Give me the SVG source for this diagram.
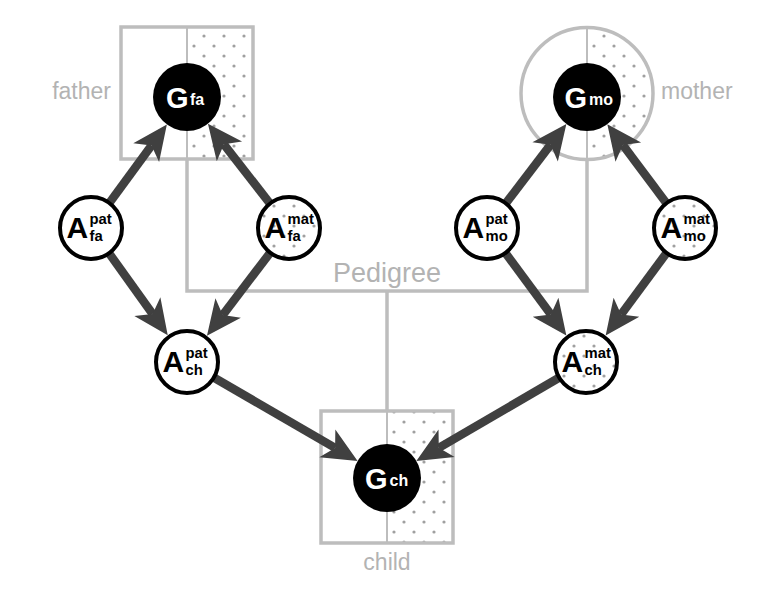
<svg xmlns="http://www.w3.org/2000/svg" width="765" height="592" viewBox="0 0 765 592">
<style>
.box{fill:none;stroke:#bdbdbd;stroke-width:3.5}
.div{fill:none;stroke:#bdbdbd;stroke-width:2}
.ped{fill:none;stroke:#bdbdbd;stroke-width:3.5}
.lbl{font-family:"Liberation Sans",Arial,sans-serif;font-size:23px;fill:#b3b3b3}
.arrow{stroke:#404040;stroke-width:8.5;fill:none;marker-end:url(#head)}
.gc{fill:#000}
.ac{fill:#fff;stroke:#000;stroke-width:4}
.acd{fill:url(#dotsA);stroke:#000;stroke-width:4}
.G{font-family:"Liberation Sans",Arial,sans-serif;font-weight:bold;font-size:29px;fill:#fff}
.Gs{font-size:16px}
.A{font-family:"Liberation Sans",Arial,sans-serif;font-weight:bold;font-size:30px;fill:#000}
.As{font-size:14.8px}
</style>
<defs>
<pattern id="dotsA" patternUnits="userSpaceOnUse" x="0" y="0" width="20" height="20">
<rect width="20" height="20" fill="#fff"/>
<circle cx="4" cy="16" r="1.6" fill="#a0a0a0"/>
<circle cx="14" cy="6" r="1.6" fill="#a0a0a0"/>
</pattern>
<pattern id="dotsB" patternUnits="userSpaceOnUse" x="0" y="0" width="20" height="20">
<rect width="20" height="20" fill="#fff"/>
<circle cx="4" cy="2" r="1.6" fill="#a0a0a0"/>
<circle cx="14" cy="12" r="1.6" fill="#a0a0a0"/>
</pattern>
<marker id="head" markerUnits="userSpaceOnUse" viewBox="-40 -20 44 40" markerWidth="44" markerHeight="40" refX="-26" refY="0" orient="auto" overflow="visible">
<path d="M0,0 L-35,-16 L-26,0 L-35,16 Z" fill="#404040"/>
</marker>
</defs>

<g id="pedigree">
<rect x="187" y="27" width="66" height="132" fill="url(#dotsA)"/>
<path d="M587,27.5 A66,66 0 0 1 587,159.5 Z" fill="url(#dotsA)"/>
<rect x="387" y="411" width="66" height="132" fill="url(#dotsB)"/>
<rect class="box" x="121" y="27" width="132" height="132"/>
<circle class="box" cx="587" cy="93.5" r="66"/>
<rect class="box" x="321" y="411" width="132" height="132"/>
<path class="div" d="M187,27 V159 M587,27.5 V159.5 M387,411 V543"/>
<path class="ped" d="M187,159 V291 H587 V159.5 M387,291 V411"/>
<text class="lbl" x="387" y="282" text-anchor="middle" style="font-size:27px">Pedigree</text>
<text class="lbl" x="111" y="99" text-anchor="end">father</text>
<text class="lbl" x="661" y="99">mother</text>
<text class="lbl" x="387" y="570" text-anchor="middle">child</text>
</g>

<g id="connectors">
<line class="arrow" x1="91" y1="228" x2="151.5" y2="145.4"/>
<line class="arrow" x1="289" y1="228" x2="223.9" y2="144.3"/>
<line class="arrow" x1="487" y1="228" x2="550.6" y2="144.7"/>
<line class="arrow" x1="685" y1="228" x2="622.9" y2="145.0"/>
<line class="arrow" x1="91" y1="228" x2="152.6" y2="314.0"/>
<line class="arrow" x1="289" y1="228" x2="222.7" y2="315.1"/>
<line class="arrow" x1="487" y1="228" x2="550.9" y2="314.5"/>
<line class="arrow" x1="685" y1="228" x2="621.1" y2="314.5"/>
<line class="arrow" x1="187" y1="362" x2="335.1" y2="447.9"/>
<line class="arrow" x1="586" y1="362" x2="438.8" y2="447.8"/>
</g>

<g id="G_fa">
<circle class="gc" cx="187" cy="97" r="34"/>
<text class="G" x="166" y="107.5">G<tspan class="Gs" x="190" y="105">fa</tspan></text>
</g>
<g id="G_mo">
<circle class="gc" cx="587" cy="97" r="34"/>
<text class="G" x="564.5" y="107.5">G<tspan class="Gs" x="589" y="105">mo</tspan></text>
</g>
<g id="G_ch">
<circle class="gc" cx="387" cy="478" r="34"/>
<text class="G" x="365" y="488.5">G<tspan class="Gs" x="389.5" y="486">ch</tspan></text>
</g>

<g id="A_fa_pat">
<circle class="ac" cx="91" cy="228" r="31"/>
<text class="A" x="66.5" y="238">A<tspan class="As" x="89.5" y="223.5">pat</tspan><tspan class="As" x="89.5" y="240.5">fa</tspan></text>
</g>
<g id="A_fa_mat">
<circle class="acd" cx="289" cy="228" r="31"/>
<text class="A" x="264.5" y="238">A<tspan class="As" x="287.5" y="223.5">mat</tspan><tspan class="As" x="287.5" y="240.5">fa</tspan></text>
</g>
<g id="A_mo_pat">
<circle class="ac" cx="487" cy="228" r="31"/>
<text class="A" x="462.5" y="238">A<tspan class="As" x="485.5" y="223.5">pat</tspan><tspan class="As" x="485.5" y="240.5">mo</tspan></text>
</g>
<g id="A_mo_mat">
<circle class="acd" cx="685" cy="228" r="31"/>
<text class="A" x="660.5" y="238">A<tspan class="As" x="683.5" y="223.5">mat</tspan><tspan class="As" x="683.5" y="240.5">mo</tspan></text>
</g>
<g id="A_ch_pat">
<circle class="ac" cx="187" cy="362" r="31"/>
<text class="A" x="162.5" y="372">A<tspan class="As" x="185.5" y="357.5">pat</tspan><tspan class="As" x="185.5" y="374.5">ch</tspan></text>
</g>
<g id="A_ch_mat">
<circle class="acd" cx="586" cy="362" r="31"/>
<text class="A" x="561.5" y="372">A<tspan class="As" x="584.5" y="357.5">mat</tspan><tspan class="As" x="584.5" y="374.5">ch</tspan></text>
</g>
</svg>
